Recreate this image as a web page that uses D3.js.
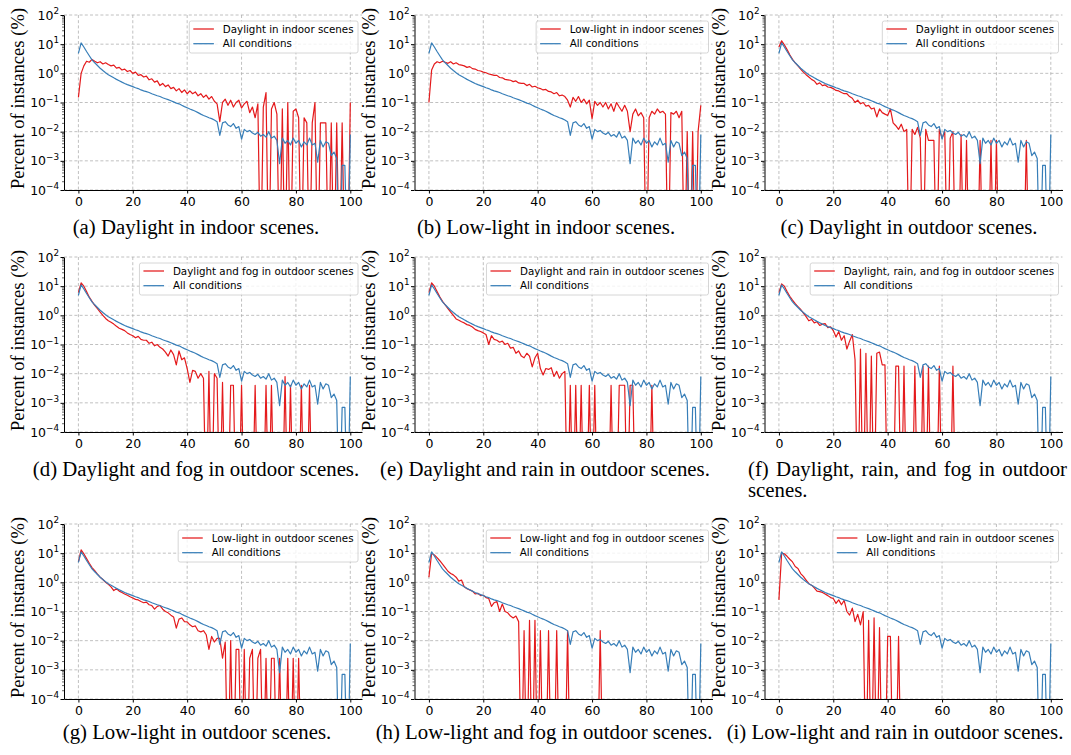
<!DOCTYPE html>
<html><head><meta charset="utf-8">
<script src="https://cdn.jsdelivr.net/npm/d3@7"></script>
<style>body{margin:0;background:#fff}svg{display:block}</style>
</head><body>
<svg id="chart" width="1071" height="755"></svg>
<script>
// ---------- data ----------
const binX = d3.range(0, 101); // bin positions 0..100 (%)
const xTicks = [0, 20, 40, 60, 80, 100];
const yTickExps = [-4, -3, -2, -1, 0, 1, 2];

const allConditions = [
  4.8, 11.0, 8.0, 5.6, 4.0, 2.9, 2.3, 1.85, 1.5, 1.25,
  1.05, 0.9, 0.8, 0.7, 0.62, 0.56, 0.5, 0.45, 0.41, 0.38,
  0.35, 0.32, 0.3, 0.27, 0.25, 0.235, 0.22, 0.2, 0.185, 0.17,
  0.16, 0.145, 0.135, 0.125, 0.115, 0.105, 0.095, 0.09, 0.08, 0.072,
  0.066, 0.06, 0.055, 0.05, 0.045, 0.04, 0.036, 0.033, 0.03, 0.028,
  0.025, 0.022, 0.0075, 0.02, 0.022, 0.017, 0.015, 0.019, 0.013, 0.015,
  0.0055, 0.012, 0.01, 0.011, 0.009, 0.008, 0.0095, 0.007, 0.008, 0.0065,
  0.01, 0.006, 0.007, 0.005, 0.0008, 0.006, 0.004, 0.005, 0.0035, 0.006,
  0.004, 0.005, 0.003, 0.0045, 0.0035, 0.006, 0.0035, 0.004, 0.0009, 0.005,
  0.003, 0.0045, 0.004, 0.0015, 0.002, 0.0012, 0, 0.0007, 0.0007, 0,
  0.008
];

const daylightIndoor = [
  0.15, 1.0, 1.8, 2.6, 2.4, 3.0, 2.6, 2.3, 2.5, 2.1,
  2.3, 2.0, 1.8, 1.9, 1.5, 1.6, 1.3, 1.4, 1.15, 1.25,
  1.0, 1.1, 0.85, 0.9, 0.75, 0.8, 0.6, 0.65, 0.5, 0.55,
  0.38, 0.45, 0.35, 0.4, 0.3, 0.33, 0.25, 0.3, 0.22, 0.27,
  0.2, 0.25, 0.2, 0.23, 0.17, 0.2, 0.15, 0.18, 0.13, 0.16,
  0.11, 0.09, 0.022, 0.1, 0.13, 0.08, 0.12, 0.07, 0.1, 0.12,
  0.065, 0.09, 0.11, 0.045, 0.07, 0.03, 0.09, 0, 0.07, 0.22,
  0, 0.06, 0.1, 0.04, 0, 0.06, 0, 0.1, 0, 0.05,
  0.06, 0.03, 0, 0.03, 0.02, 0, 0.02, 0.1, 0, 0.02,
  0.02, 0.02, 0, 0.02, 0, 0.02, 0, 0.02, 0, 0,
  0.1
];

const lowlightIndoor = [
  0.1, 1.3, 2.1, 2.5, 2.3, 2.6, 2.4, 2.2, 2.5, 2.1,
  2.3, 2.0, 1.9, 1.8, 1.6, 1.7, 1.45, 1.4, 1.25, 1.2,
  1.1, 1.05, 0.95, 0.9, 0.85, 0.85, 0.72, 0.7, 0.62, 0.6,
  0.58, 0.52, 0.55, 0.47, 0.45, 0.45, 0.38, 0.42, 0.34, 0.36,
  0.32, 0.3, 0.27, 0.28, 0.24, 0.23, 0.2, 0.22, 0.17, 0.18,
  0.16, 0.12, 0.07, 0.15, 0.11, 0.16, 0.1, 0.13, 0.09, 0.12,
  0.028, 0.11, 0.08, 0.1, 0.07, 0.1, 0.06, 0.09, 0.05, 0.1,
  0.07, 0.05, 0.08, 0.05, 0.01, 0.04, 0.06, 0.035, 0.045, 0.03,
  0, 0.03, 0.05, 0.04, 0.06, 0.045, 0.05, 0.04, 0, 0.045,
  0.04, 0.05, 0.03, 0.05, 0, 0.01, 0, 0.01, 0, 0.01,
  0.08
];

const daylightOutdoor = [
  8, 13, 9.5, 6.5, 4.3, 3.0, 2.3, 1.8, 1.4, 1.1,
  0.9, 0.75, 0.62, 0.55, 0.42, 0.47, 0.38, 0.4, 0.34, 0.33,
  0.3, 0.26, 0.25, 0.22, 0.2, 0.2, 0.16, 0.14, 0.1, 0.12,
  0.09, 0.1, 0.075, 0.08, 0.06, 0.065, 0.032, 0.06, 0.045, 0.04,
  0.036, 0.06, 0.02, 0.016, 0.012, 0.018, 0.01, 0.012, 0, 0.012,
  0.008, 0.014, 0.006, 0, 0.012, 0.005, 0.005, 0.005, 0, 0.012,
  0.006, 0.01, 0, 0.006, 0.01, 0, 0, 0.008, 0, 0.005,
  0, 0, 0, 0, 0.005, 0, 0, 0, 0.005, 0,
  0.005, 0, 0, 0, 0, 0, 0, 0, 0, 0,
  0, 0.005, 0, 0, 0, 0, 0, 0, 0, 0,
  0
];

const daylightFogOutdoor = [
  6, 13, 10, 6.5, 4.2, 3.0, 2.2, 1.7, 1.3, 1.0,
  0.78, 0.65, 0.58, 0.5, 0.42, 0.36, 0.33, 0.3, 0.25, 0.22,
  0.2, 0.17, 0.19, 0.15, 0.14, 0.14, 0.11, 0.12, 0.09, 0.1,
  0.08, 0.07, 0.055, 0.04, 0.065, 0.045, 0.02, 0.06, 0.03, 0.035,
  0.015, 0.005, 0.013, 0.012, 0.007, 0.01, 0.007, 0, 0.012, 0,
  0.01, 0.007, 0, 0.005, 0, 0, 0.004, 0.004, 0, 0,
  0.004, 0, 0, 0, 0, 0.004, 0, 0, 0, 0.004,
  0, 0.004, 0, 0, 0, 0, 0.008, 0, 0.004, 0,
  0, 0, 0.004, 0, 0, 0.004, 0, 0, 0, 0,
  0, 0, 0, 0, 0, 0, 0, 0, 0, 0,
  0
];

const daylightRainOutdoor = [
  6, 13, 10, 6.5, 4.3, 3.0, 2.3, 1.7, 1.3, 1.0,
  0.75, 0.68, 0.6, 0.55, 0.48, 0.45, 0.4, 0.33, 0.3, 0.28,
  0.25, 0.22, 0.1, 0.2, 0.15, 0.14, 0.12, 0.13, 0.1, 0.11,
  0.075, 0.08, 0.05, 0.06, 0.04, 0.035, 0.05, 0.04, 0.017, 0.035,
  0.05, 0.015, 0.009, 0.015, 0.014, 0.016, 0.008, 0.012, 0.007, 0.01,
  0.012, 0, 0.004, 0, 0.004, 0, 0.004, 0, 0, 0.004,
  0, 0.004, 0, 0, 0, 0, 0, 0.004, 0, 0,
  0.004, 0.004, 0.004, 0, 0.004, 0.004, 0, 0, 0, 0,
  0, 0, 0.004, 0, 0, 0, 0, 0, 0, 0,
  0, 0, 0, 0, 0, 0, 0, 0, 0, 0,
  0
];

const daylightRainFogOutdoor = [
  6, 12, 10, 6.5, 4.5, 3.3, 2.5, 2.0, 1.6, 1.2,
  0.9, 0.65, 0.72, 0.55, 0.6, 0.45, 0.5, 0.52, 0.38, 0.4,
  0.3, 0.18, 0.28, 0.14, 0.2, 0.07, 0.13, 0.22, 0.03, 0,
  0.07, 0, 0.05, 0, 0.04, 0, 0.05, 0.055, 0.02, 0.02,
  0, 0, 0, 0.018, 0.018, 0, 0.018, 0, 0, 0,
  0.018, 0, 0, 0.018, 0, 0.018, 0, 0, 0, 0.018,
  0, 0, 0, 0, 0.018, 0, 0, 0, 0, 0,
  0, 0, 0, 0, 0, 0, 0, 0, 0, 0,
  0, 0, 0, 0, 0, 0, 0, 0, 0, 0,
  0, 0, 0, 0, 0, 0, 0, 0, 0, 0,
  0
];

const lowlightOutdoor = [
  5, 13, 9.5, 6.5, 4.5, 3.2, 2.5, 1.9, 1.5, 1.25,
  1.0, 0.85, 0.7, 0.52, 0.6, 0.5, 0.45, 0.4, 0.36, 0.32,
  0.29, 0.26, 0.25, 0.22, 0.2, 0.21, 0.17, 0.16, 0.12, 0.15,
  0.16, 0.12, 0.1, 0.09, 0.075, 0.065, 0.027, 0.055, 0.06, 0.045,
  0.044, 0.035, 0.03, 0.032, 0.022, 0.02, 0.022, 0.016, 0.005, 0.014,
  0.009, 0.012, 0.012, 0.0025, 0.009, 0, 0.01, 0, 0.005, 0.005,
  0, 0.005, 0, 0.0025, 0.005, 0, 0.0025, 0.005, 0, 0.0025,
  0, 0.0025, 0.0025, 0, 0.0025, 0, 0, 0.0025, 0, 0.0025,
  0, 0.0025, 0, 0, 0, 0, 0, 0, 0, 0,
  0, 0, 0, 0, 0, 0, 0, 0, 0, 0,
  0
];

const lowlightFogOutdoor = [
  1.5, 10, 8.7, 7, 5.5, 4.2, 3.2, 2.4, 2.0, 1.8,
  1.5, 1.1, 1.2, 0.7, 0.6, 0.55, 0.5, 0.4, 0.42, 0.35,
  0.36, 0.3, 0.28, 0.15, 0.2, 0.22, 0.1, 0.18, 0.1, 0.09,
  0.07, 0.06, 0.07, 0.045, 0, 0.022, 0, 0.05, 0, 0.05,
  0, 0.022, 0, 0, 0.022, 0, 0, 0.022, 0, 0,
  0, 0.022, 0, 0, 0, 0, 0, 0, 0, 0,
  0, 0, 0, 0.022, 0, 0, 0, 0, 0, 0,
  0, 0, 0, 0, 0, 0, 0, 0, 0, 0,
  0, 0, 0, 0, 0, 0, 0, 0, 0, 0,
  0, 0, 0, 0, 0, 0, 0, 0, 0, 0,
  0
];

const lowlightRainOutdoor = [
  0.25, 10, 9.5, 7.8, 6.2, 5.0, 3.5, 3.0, 2.0, 1.6,
  1.2, 0.9, 0.8, 0.65, 0.5, 0.48, 0.45, 0.4, 0.35, 0.3,
  0.28, 0.19, 0.25, 0.17, 0.24, 0.1, 0.075, 0.13, 0.045, 0.08,
  0.035, 0.1, 0, 0.05, 0, 0.06, 0, 0.028, 0, 0,
  0.014, 0.014, 0, 0, 0.014, 0, 0, 0, 0, 0,
  0, 0, 0, 0, 0, 0, 0, 0, 0, 0,
  0, 0, 0, 0, 0, 0, 0, 0, 0, 0,
  0, 0, 0, 0, 0, 0, 0, 0, 0, 0,
  0, 0, 0, 0, 0, 0, 0, 0, 0, 0,
  0, 0, 0, 0, 0, 0, 0, 0, 0, 0,
  0
];

const conditionSeries = [daylightIndoor, lowlightIndoor, daylightOutdoor,
  daylightFogOutdoor, daylightRainOutdoor, daylightRainFogOutdoor,
  lowlightOutdoor, lowlightFogOutdoor, lowlightRainOutdoor];

const conditionLabels = [
  "Daylight in indoor scenes", "Low-light in indoor scenes", "Daylight in outdoor scenes",
  "Daylight and fog in outdoor scenes", "Daylight and rain in outdoor scenes",
  "Daylight, rain, and fog in outdoor scenes", "Low-light in outdoor scenes",
  "Low-light and fog in outdoor scenes", "Low-light and rain in outdoor scenes"];
const allLabel = "All conditions";

const captions = [
  "(a) Daylight in indoor scenes.", "(b) Low-light in indoor scenes.", "(c) Daylight in outdoor scenes.",
  "(d) Daylight and fog in outdoor scenes.", "(e) Daylight and rain in outdoor scenes.",
  "(f) Daylight, rain, and fog in outdoor scenes.",
  "(g) Low-light in outdoor scenes.", "(h) Low-light and fog in outdoor scenes.",
  "(i) Low-light and rain in outdoor scenes."];
const yLabel = "Percent of instances (%)";

// ---------- layout ----------
const svg = d3.select('#chart');
const colLeft = [64, 414.5, 764.5];
const rowTop = [15, 257, 524];
const plotW = 298, plotH = 175;
const RED = '#e41a1c', BLUE = '#377eb8';
const SANS = "'DejaVu Sans', sans-serif";
const SERIF = "'Liberation Serif', 'Times New Roman', serif";
const CAP_FS = 20.8;
const captionX = [196, 546, 909, 196, 545, null, 197, 544, 895];
const captionY = [234, 476, 739];

const defs = svg.append('defs');

conditionSeries.forEach((series, i) => {
  const col = i % 3, row = Math.floor(i / 3);
  const L = colLeft[col], T = rowTop[row];
  const x = d3.scaleLinear().domain([-5.3, 104.3]).range([L, L + plotW]);
  const y = d3.scaleLog().domain([1e-4, 1e2]).range([T + plotH, T]);
  const g = svg.append('g');

  defs.append('clipPath').attr('id', 'clip' + i).append('rect')
    .attr('x', L).attr('y', T - 2).attr('width', plotW + 2).attr('height', plotH + 2);

  // grid
  const grid = g.append('g').attr('stroke', '#b0b0b0').attr('stroke-width', 0.8)
    .attr('stroke-dasharray', '3,2.2');
  xTicks.forEach(t => grid.append('line').attr('x1', x(t)).attr('x2', x(t))
    .attr('y1', T).attr('y2', T + plotH));
  yTickExps.forEach(e => grid.append('line').attr('x1', L).attr('x2', L + plotW)
    .attr('y1', y(Math.pow(10, e))).attr('y2', y(Math.pow(10, e))));

  // lines
  const line = d3.line()
    .x((d, j) => x(binX[j]))
    .y(d => y(d > 0 ? d : 1e-7));
  const lines = g.append('g').attr('clip-path', `url(#clip${i})`)
    .attr('fill', 'none').attr('stroke-width', 1.2).attr('stroke-linejoin', 'round');
  lines.append('path').attr('d', line(series)).attr('stroke', RED);
  lines.append('path').attr('d', line(allConditions)).attr('stroke', BLUE);

  // x axis
  const xa = g.append('g').attr('transform', `translate(0,${T + plotH})`)
    .call(d3.axisBottom(x).tickValues(xTicks).tickSize(3.5).tickSizeOuter(0).tickPadding(3.5));
  xa.selectAll('text').attr('font-family', SANS).attr('font-size', 12.5).attr('fill', '#000');
  xa.select('.domain').attr('stroke', '#000').attr('stroke-width', 1);

  // y axis (major + minor ticks)
  const majors = yTickExps.map(e => Math.pow(10, e));
  const minors = [];
  for (let e = -4; e < 2; e++) for (let m = 2; m <= 9; m++) minors.push(m * Math.pow(10, e));
  const ya = g.append('g').attr('transform', `translate(${L},0)`)
    .call(d3.axisLeft(y).tickValues(majors).tickFormat('').tickSize(3.5).tickSizeOuter(0));
  ya.select('.domain').attr('stroke', '#000').attr('stroke-width', 1);
  const ym = g.append('g').attr('transform', `translate(${L},0)`)
    .call(d3.axisLeft(y).tickValues(minors).tickFormat('').tickSize(2).tickSizeOuter(0));
  ym.select('.domain').remove();
  ym.selectAll('line').attr('stroke-width', 0.6);
  // y tick labels 10^e
  yTickExps.forEach(e => {
    const t = g.append('text').attr('x', L - 5).attr('y', y(Math.pow(10, e)) + 4.5)
      .attr('text-anchor', 'end').attr('font-family', SANS).attr('font-size', 12.5);
    t.append('tspan').text('10');
    t.append('tspan').attr('dy', -5.5).attr('font-size', 8.8)
      .text(e < 0 ? '\u2212' + Math.abs(e) : String(e));
  });

  // y label
  g.append('text')
    .attr('transform', `translate(${L - 40},${T + plotH / 2 - 4}) rotate(-90)`)
    .attr('text-anchor', 'middle').attr('font-family', SERIF).attr('font-size', 18.6)
    .text(yLabel);

  // legend
  const lg = g.append('g');
  const box = lg.append('rect');
  const t1 = lg.append('text').attr('font-family', SANS).attr('font-size', 10.3).text(conditionLabels[i]);
  const t2 = lg.append('text').attr('font-family', SANS).attr('font-size', 10.3).text(allLabel);
  const tw = Math.max(t1.node().getComputedTextLength(), t2.node().getComputedTextLength());
  const bw = tw + 38, bh = 32;
  const bx = L + plotW - 4 - bw, by = T + 6;
  box.attr('x', bx).attr('y', by).attr('width', bw).attr('height', bh).attr('rx', 2)
    .attr('fill', '#fff').attr('fill-opacity', 0.8).attr('stroke', '#cccccc').attr('stroke-width', 0.8);
  [[RED, by + 8, t1], [BLUE, by + 22.7, t2]].forEach(([c, cy, t]) => {
    lg.append('line').attr('x1', bx + 4).attr('x2', bx + 24.6).attr('y1', cy).attr('y2', cy)
      .attr('stroke', c).attr('stroke-width', 1.25);
    t.attr('x', bx + 33.5).attr('y', cy + 3.7);
  });

  // caption
  if (captionX[i] !== null) {
    svg.append('text').attr('x', captionX[i]).attr('y', captionY[row])
      .attr('text-anchor', 'middle').attr('font-family', SERIF).attr('font-size', CAP_FS)
      .text(captions[i]);
  } else {
    const words = captions[i].split(' ');
    const first = words.slice(0, -1).join(' ');
    const last = words[words.length - 1];
    const ct = svg.append('text').attr('x', 748).attr('y', captionY[row])
      .attr('font-family', SERIF).attr('font-size', CAP_FS).text(first);
    const nat = ct.node().getComputedTextLength();
    const gaps = words.length - 2;
    ct.attr('word-spacing', (1067 - 748 - nat) / gaps);
    svg.append('text').attr('x', 748).attr('y', captionY[row] + 21)
      .attr('font-family', SERIF).attr('font-size', CAP_FS).text(last);
  }
});
</script>
</body></html>
